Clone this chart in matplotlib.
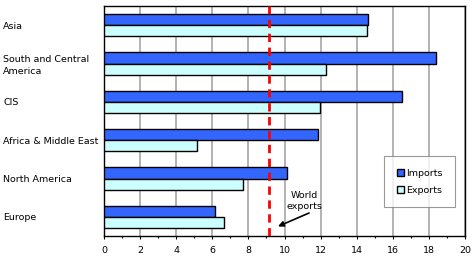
import matplotlib
matplotlib.use("Agg")
import matplotlib.pyplot as plt
import numpy as np

categories = ["Asia", "South and Central\nAmerica", "CIS", "Africa & Middle East", "North America", "Europe"]
imports = [14.64, 18.41, 16.53, 11.84, 10.12, 6.17]
exports = [14.59, 12.32, 11.99, 5.13, 7.72, 6.67]
world_exports = 9.14
xticks = [0, 2, 4, 6, 8, 10, 12, 14, 16, 18, 20]

W, H = 473, 259
fig = plt.figure(figsize=(W / 100, H / 100), dpi=100)
ax = fig.add_axes([104 / W, 1 - 236 / H, (465 - 104) / W, (236 - 6) / H])

n = len(categories)
y = np.arange(n)
bh = 0.287
ax.barh(y - bh / 2, imports, height=bh, color="#3366FF", edgecolor="black", linewidth=1.0, label="Imports", zorder=3)
ax.barh(y + bh / 2, exports, height=bh, color="#CCFFFF", edgecolor="black", linewidth=1.0, label="Exports", zorder=3)

ax.set_ylim(n - 0.5, -0.5)
ax.set_xlim(0, 20)
ax.set_xticks(xticks)
ax.set_xticks(np.arange(1, 20, 2), minor=True)
ax.set_xticklabels([str(t) for t in xticks], fontsize=6.8)
ax.tick_params(axis="x", which="major", direction="out", length=2.5, width=0.8, pad=5)
ax.tick_params(axis="x", which="minor", direction="out", length=1.5, width=0.8)
ax.set_yticks(y)
ax.set_yticklabels(categories, fontsize=6.8, ha="left", linespacing=1.4)
ax.tick_params(axis="y", length=0, pad=72.5)

ax.grid(axis="x", which="major", color="#A6A6A6", linewidth=1.2, zorder=0)
for s in ax.spines.values():
    s.set_linewidth(1.0)
    s.set_color("black")

ax.axvline(world_exports, color="#FF0000", linestyle=(0, (3, 2)), linewidth=2, zorder=4)

ax.text(11.1, 4.59, "World\nexports", fontsize=6.8, ha="center", va="center", zorder=5)
ax.annotate("", xy=(9.64, 5.25), xytext=(11.36, 4.90),
            arrowprops=dict(arrowstyle="-|>", color="black", lw=1.2, mutation_scale=8,
                            shrinkA=0, shrinkB=0), zorder=5)

leg = ax.legend(loc="lower right", bbox_to_anchor=((455.3 - 104) / (465 - 104), (236 - 207.3) / 230),
                fontsize=6.8, frameon=True, fancybox=False, edgecolor="#808080",
                handlelength=0.75, handleheight=0.75, handletextpad=0.3, labelspacing=0.9,
                borderpad=1.3, borderaxespad=0)
leg.get_frame().set_linewidth(0.8)

fig.savefig("out.png", dpi=100)
